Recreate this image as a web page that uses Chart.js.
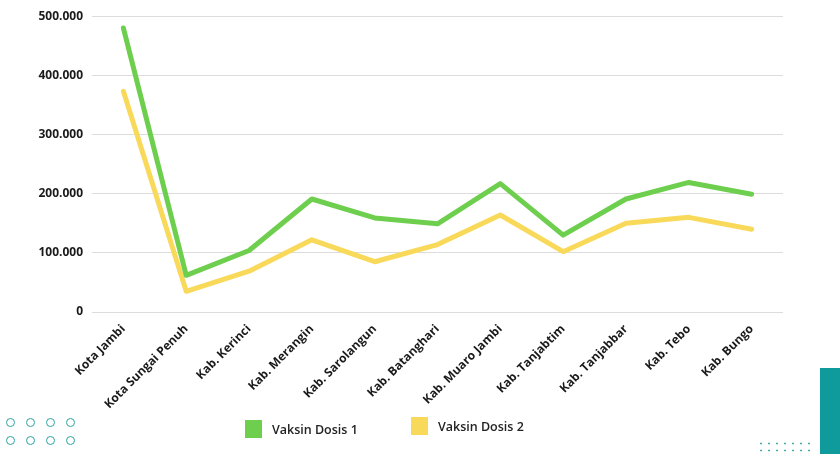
<!DOCTYPE html>
<html>
<head>
<meta charset="utf-8">
<script src="https://cdn.jsdelivr.net/npm/chart.js@4"></script>
<style>
  html, body { margin: 0; padding: 0; background: #fff; }
  #wrap { position: relative; width: 840px; height: 454px; overflow: hidden; font-family: "Open Sans", sans-serif; }
  #mainChart { position: absolute; left: 0; top: 0; }
  .legenda { position: absolute; font-size: 12.5px; font-weight: 600; color: #222; display: flex; align-items: center; }
  .legenda span.caixa { display: inline-block; width: 17px; height: 18px; margin-right: 10px; }
  .bolinhas { position: absolute; left: 6px; top: 418px; }
  .bolinhas i { position: absolute; width: 7px; height: 7px; border: 1.7px solid #2aa3a3; border-radius: 50%; }
  .faixa { position: absolute; left: 820px; top: 368px; width: 20px; height: 86px; background: #0f9b9b; }
  .pontos { position: absolute; left: 757px; top: 440px; width: 56px; height: 14px;
    background-image: radial-gradient(circle, #3aa9a9 0.8px, transparent 1.2px); background-size: 8px 7px; }
</style>
</head>
<body>
<div id="wrap">
  <canvas id="mainChart" width="840" height="454"></canvas>
  <div class="bolinhas" id="bolinhas"></div>
  <div class="legenda" style="left:245px; top:420px;"><span class="caixa" style="background:#6ecf4e"></span>Vaksin Dosis 1</div>
  <div class="legenda" style="left:411px; top:417px;"><span class="caixa" style="background:#f8d95a"></span>Vaksin Dosis 2</div>
  <div class="pontos"></div>
  <div class="faixa"></div>
</div>
<script>
// Dados do gráfico
const wilayah = ['Kota Jambi', 'Kota Sungai Penuh', 'Kab. Kerinci', 'Kab. Merangin', 'Kab. Sarolangun',
  'Kab. Batanghari', 'Kab. Muaro Jambi', 'Kab. Tanjabtim', 'Kab. Tanjabbar', 'Kab. Tebo', 'Kab. Bungo'];
const dosis1 = [480000, 62000, 104000, 191000, 159000, 149000, 217000, 130000, 191000, 219000, 199000];
const dosis2 = [373000, 35000, 69000, 122000, 85000, 114000, 164000, 102000, 150000, 160000, 140000];
const yTicks = [0, 100000, 200000, 300000, 400000, 500000];

// bolinhas decorativas
const bol = document.getElementById('bolinhas');
for (let r = 0; r < 2; r++) {
  for (let c = 0; c < 4; c++) {
    const i = document.createElement('i');
    i.style.left = (c * 20) + 'px';
    i.style.top = (r * 18) + 'px';
    bol.appendChild(i);
  }
}

function formatar(v) {
  return v.toString().replace(/\B(?=(\d{3})+(?!\d))/g, '.');
}

const ctx = document.getElementById('mainChart');
new Chart(ctx, {
  type: 'line',
  data: {
    labels: wilayah,
    datasets: [
      { label: 'Vaksin Dosis 1', data: dosis1, borderColor: '#6ecf4e', backgroundColor: '#6ecf4e',
        borderWidth: 5, pointRadius: 0, tension: 0, fill: false, borderCapStyle: 'round', borderJoinStyle: 'round' },
      { label: 'Vaksin Dosis 2', data: dosis2, borderColor: '#f8d95a', backgroundColor: '#f8d95a',
        borderWidth: 5, pointRadius: 0, tension: 0, fill: false, borderCapStyle: 'round', borderJoinStyle: 'round' }
    ]
  },
  options: {
    responsive: false,
    animation: false,
    layout: { autoPadding: false, padding: { top: 13, left: 0, right: 57, bottom: 0 } },
    plugins: { legend: { display: false }, tooltip: { enabled: false } },
    scales: {
      x: {
        offset: true,
        grid: { display: false },
        border: { display: false },
        ticks: {
          minRotation: 45, maxRotation: 45, autoSkip: false, padding: 2,
          color: '#1a1a1a', font: { family: 'Open Sans', size: 12, weight: 'bold' }
        },
        afterFit: (scale) => { scale.height = 142; }
      },
      y: {
        min: 0, max: 500000,
        afterBuildTicks: (scale) => { scale.ticks = yTicks.map(v => ({ value: v })); },
        grid: { color: '#dcdcdc', lineWidth: 1, drawTicks: false },
        border: { display: false },
        ticks: {
          padding: 9, color: '#1a1a1a', font: { family: 'Open Sans', size: 12, weight: 'bold' },
          callback: (v) => formatar(v)
        },
        afterFit: (scale) => { scale.width = 92; }
      }
    }
  }
});
</script>
</body>
</html>
